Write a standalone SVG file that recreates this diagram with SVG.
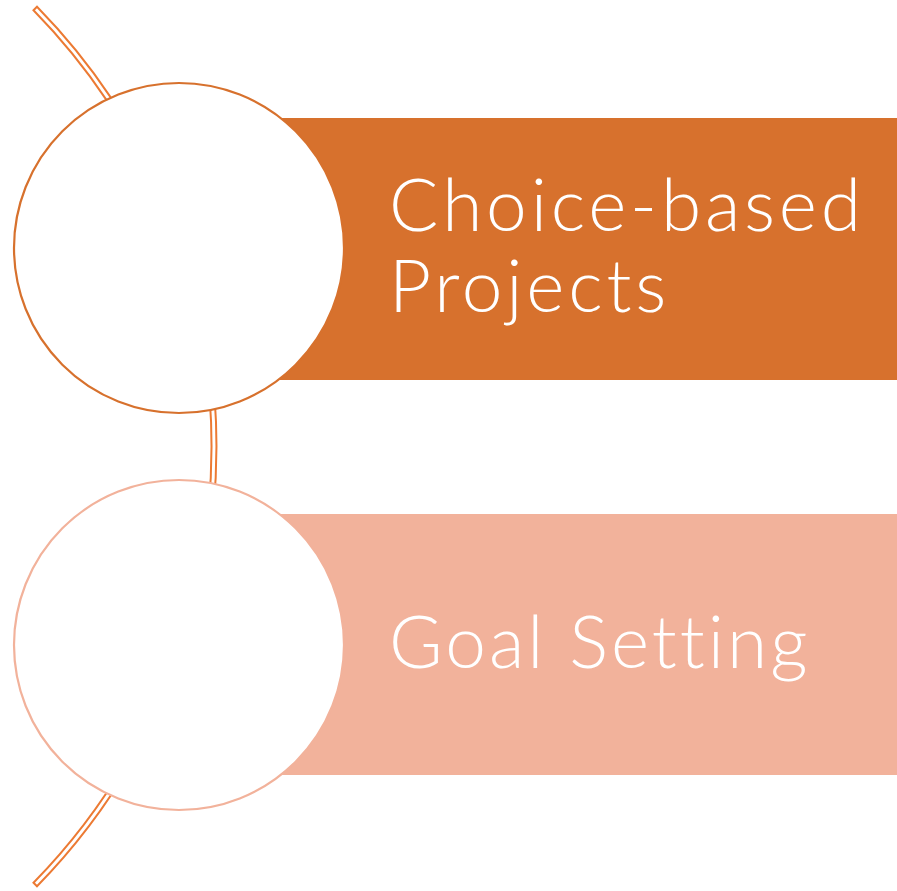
<svg xmlns="http://www.w3.org/2000/svg" width="897" height="891" viewBox="0 0 897 891">
<style>
.lbl{font-family:Lato,"Open Sans","Liberation Sans",sans-serif;font-weight:300;font-size:73px;fill:#ffffff;letter-spacing:3.8px;font-variant-ligatures:none}
.band{fill:#ffffff;stroke:#EC7A33;stroke-width:2}
</style>
<rect width="897" height="891" fill="#ffffff"/>
<g id="connectors">
<path class="band" d="M37,6.75 A628.5,628.5 0 0 1 37,886.25 L33.5,882.75 A623.5,623.5 0 0 0 33.5,10.25 Z"/>
</g>
<g id="node-1">
<rect x="270" y="118" width="627" height="262" fill="#D7712D"/>
<circle cx="179" cy="248" r="165" fill="#ffffff" stroke="#D7712D" stroke-width="2.2"/>
<text class="lbl" x="389" y="231">Choice-based</text>
<text class="lbl" x="389" y="312">Projects</text>
</g>
<g id="node-2">
<rect x="270" y="514" width="627" height="261" fill="#F2B29B"/>
<circle cx="179" cy="645" r="165" fill="#ffffff" stroke="#F2B29B" stroke-width="2.2"/>
<text class="lbl" x="389" y="668" style="letter-spacing:3px">Goal Setting</text>
</g>
</svg>
